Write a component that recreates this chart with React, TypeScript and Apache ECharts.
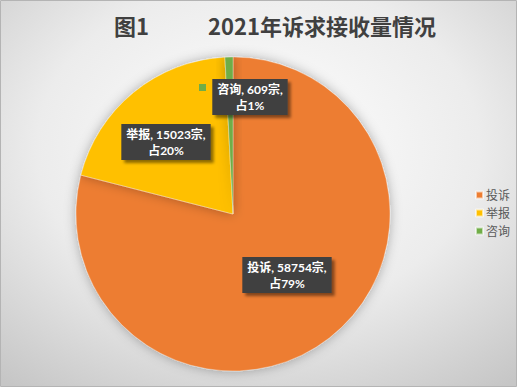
import React, { useEffect, useRef } from "react";
import * as echarts from "echarts";

const categories = ["投诉", "举报", "咨询"];
const values = [58754, 15023, 609];
const colors = ["#ED7D31", "#FFC000", "#70AD47"];
const titleLeft = "图1";
const titleMain = "2021年诉求接收量情况";

// label anchor positions (pixels) for each slice's data label
const labelPos = [
  [287, 275],
  [166, 142],
  [250, 97],
];

export default function App() {
  const ref = useRef<HTMLDivElement>(null);
  useEffect(() => {
    document.body.style.margin = "0";
    const chart = echarts.init(ref.current!, null, { renderer: "svg" });
    const font = 'Lato, "Noto Sans CJK SC", sans-serif';
    const titleFont = '"Noto Sans CJK SC", sans-serif';
    chart.setOption({
      animation: false,
      textStyle: { fontFamily: font },
      graphic: [
        {
          type: "rect",
          z: -10,
          silent: true,
          shape: { x: 0.5, y: 0.5, width: 516, height: 386 },
          style: {
            fill: new echarts.graphic.RadialGradient(0.5, 0.38, 0.78, [
              { offset: 0, color: "#ffffff" },
              { offset: 0.55, color: "#ececec" },
              { offset: 1, color: "#c6c6c6" },
            ]),
            stroke: "#b4b4b4",
            lineWidth: 1,
          },
        },
        {
          type: "rect",
          z: 10,
          silent: true,
          shape: { x: 199, y: 84, width: 7, height: 7 },
          style: { fill: colors[2] },
        },
      ],
      title: [
        {
          text: titleLeft,
          left: 109,
          top: 9,
          textStyle: { fontSize: 22, fontWeight: "bold", color: "#404040", fontFamily: titleFont },
        },
        {
          text: titleMain,
          left: 203,
          top: 9,
          textStyle: { fontSize: 22, fontWeight: "bold", color: "#404040", fontFamily: titleFont },
        },
      ],
      legend: {
        orient: "vertical",
        left: 470,
        top: 184,
        itemWidth: 7,
        itemHeight: 7,
        itemGap: 6,
        icon: "rect",
        data: categories,
        textStyle: { fontSize: 12, color: "#595959", padding: [0, 0, 0, -2], fontFamily: font },
      },
      series: [
        {
          type: "pie",
          center: [233, 214],
          radius: 157,
          startAngle: 90,
          clockwise: true,
          percentPrecision: 0,
          color: colors,
          itemStyle: {
            borderColor: "rgba(255,255,255,0.6)",
            borderWidth: 0.5,
            shadowBlur: 12,
            shadowColor: "rgba(0,0,0,0.3)",
          },
          emphasis: { disabled: true },
          label: {
            show: true,
            position: "inside",
            formatter: (p: any) => `${p.name}, ${p.value}宗,\n占${p.percent}%`,
            color: "#ffffff",
            fontWeight: "bold",
            fontSize: 12,
            lineHeight: 16,
            align: "center",
            backgroundColor: "#404040",
            padding: [2, 5, 2, 5],
            shadowColor: "rgba(0,0,0,0.45)",
            shadowBlur: 3,
            shadowOffsetX: 3,
            shadowOffsetY: 3,
            fontFamily: font,
          },
          labelLine: { show: false },
          labelLayout: (params: any) => ({
            x: labelPos[params.dataIndex][0],
            y: labelPos[params.dataIndex][1],
            align: "center",
            verticalAlign: "middle",
          }),
          data: categories.map((c, i) => ({ name: c, value: values[i] })),
        },
      ],
    });
    return () => chart.dispose();
  }, []);
  return <div ref={ref} style={{ width: 520, height: 388, position: "absolute", left: 0, top: 0 }} />;
}
